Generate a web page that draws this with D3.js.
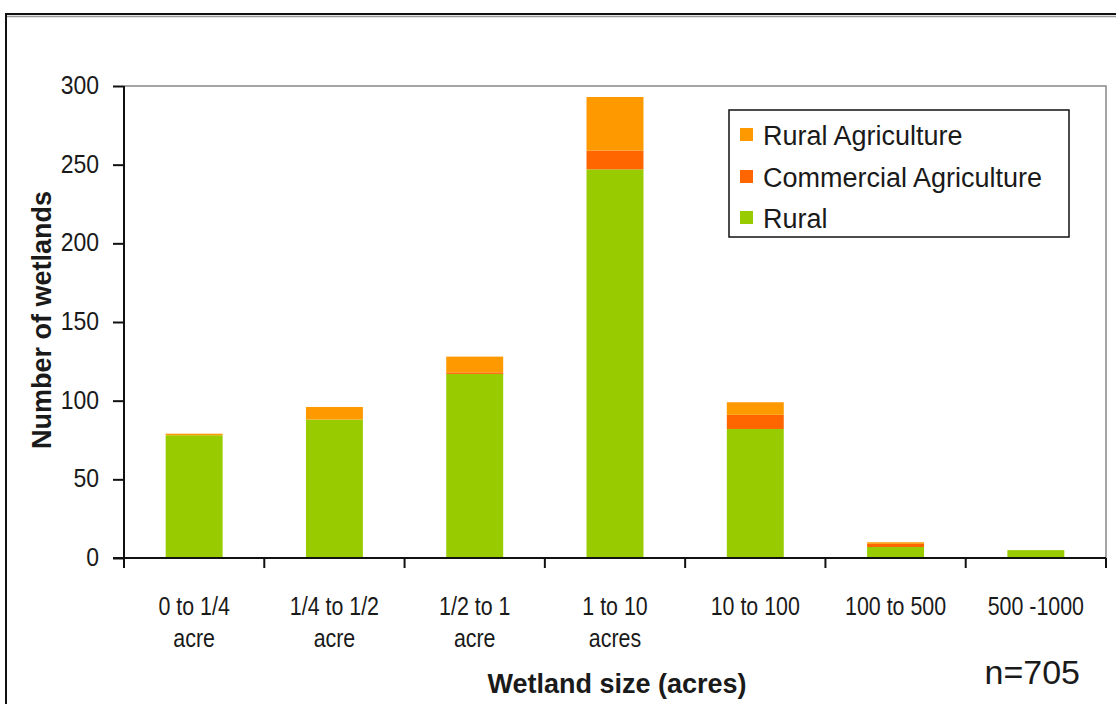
<!DOCTYPE html>
<html>
<head>
<meta charset="utf-8">
<script src="https://cdn.jsdelivr.net/npm/d3@7/dist/d3.min.js"></script>
<style>
  html, body { margin: 0; padding: 0; background: #fff; }
  svg { display: block; }
  text { font-family: "Liberation Sans", Arial, sans-serif; fill: #1a1a1a; }
</style>
</head>
<body>
<svg id="chart" width="1116" height="704"></svg>
<script>
// ---- Data ----
const categoriesLine1 = ["0 to 1/4", "1/4 to 1/2", "1/2 to 1", "1 to 10", "10 to 100", "100 to 500", "500 -1000"];
const categoriesLine2 = ["acre", "acre", "acre", "acres", "", "", ""];
const seriesNames = ["Rural", "Commercial Agriculture", "Rural Agriculture"];
const rural = [78, 88, 117, 247, 82, 7, 5];
const commercialAgriculture = [0, 0, 1, 12, 9, 2, 0];
const ruralAgriculture = [1, 8, 10, 34, 8, 1, 0];
const yTicks = [0, 50, 100, 150, 200, 250, 300];
const sampleNote = "n=705";

const colors = { "Rural": "#99CC00", "Commercial Agriculture": "#FF6600", "Rural Agriculture": "#FF9900" };

(function () {
const svg = d3.select("#chart");

// outer frame
svg.append("rect").attr("x", 6).attr("y", 14).attr("width", 1130).attr("height", 720)
  .attr("fill", "#fff").attr("stroke", "#111").attr("stroke-width", 2);
svg.append("line").attr("x1", 7).attr("x2", 1116).attr("y1", 16.5).attr("y2", 16.5)
  .attr("stroke", "#999").attr("stroke-width", 1.5);

const pLeft = 124, pRight = 1106, pTop = 86, pBottom = 558;

const x = d3.scaleBand().domain(d3.range(categoriesLine1.length))
  .range([pLeft, pRight]).paddingInner(0.594).paddingOuter(0.297);
const y = d3.scaleLinear().domain([0, 300]).range([pBottom, pTop]);

// plot area border (top/right gray)
svg.append("path")
  .attr("d", `M${pLeft},${pTop}H${pRight}V${pBottom}`)
  .attr("fill", "none").attr("stroke", "#888").attr("stroke-width", 1.5);

// stacked data
const table = categoriesLine1.map((c, i) => ({
  idx: i,
  "Rural": rural[i],
  "Commercial Agriculture": commercialAgriculture[i],
  "Rural Agriculture": ruralAgriculture[i]
}));
const stack = d3.stack().keys(seriesNames)(table);

svg.append("g").selectAll("g").data(stack).join("g")
  .attr("fill", d => colors[d.key])
  .selectAll("rect").data(d => d).join("rect")
  .attr("x", d => x(d.data.idx))
  .attr("width", x.bandwidth())
  .attr("y", d => y(d[1]))
  .attr("height", d => y(d[0]) - y(d[1]));

// y axis
const yAxis = d3.axisLeft(y).tickValues(yTicks).tickSize(11).tickPadding(14);
const gy = svg.append("g").attr("transform", `translate(${pLeft},0)`).call(yAxis);
gy.select(".domain").attr("stroke", "#111").attr("stroke-width", 2).attr("d", `M0,${pTop}V${pBottom + 10}`);
gy.selectAll(".tick line").attr("stroke", "#111").attr("stroke-width", 2);
gy.selectAll(".tick text").attr("font-size", 23).attr("fill", "#222")
  .attr("font-family", "'Liberation Sans', Arial, sans-serif")
  .attr("transform", "scale(1,1.15)").attr("dy", "0.28em");

// x axis line and ticks at category boundaries
const step = x.step();
const boundaries = d3.range(categoriesLine1.length + 1).map(i => pLeft + i * step);
svg.append("line").attr("x1", pLeft - 11).attr("x2", pRight).attr("y1", pBottom).attr("y2", pBottom)
  .attr("stroke", "#111").attr("stroke-width", 2);
svg.append("g").selectAll("line").data(boundaries).join("line")
  .attr("x1", d => d).attr("x2", d => d).attr("y1", pBottom).attr("y2", pBottom + 10)
  .attr("stroke", "#111").attr("stroke-width", 2);

// x tick labels (slightly condensed, taller glyphs like the reference)
const xl = svg.append("g").attr("font-size", 23).attr("text-anchor", "middle");
xl.selectAll("text.l1").data(categoriesLine1).join("text").attr("class", "l1")
  .attr("transform", (d, i) => `translate(${x(i) + x.bandwidth() / 2},615) scale(0.93,1.15)`).text(d => d);
xl.selectAll("text.l2").data(categoriesLine2).join("text").attr("class", "l2")
  .attr("transform", (d, i) => `translate(${x(i) + x.bandwidth() / 2},647) scale(0.93,1.15)`).text(d => d);

// axis titles
svg.append("text").attr("x", 617).attr("y", 693).attr("text-anchor", "middle")
  .attr("font-size", 27).attr("font-weight", "bold").text("Wetland size (acres)");
svg.append("text").attr("transform", "translate(51,320) rotate(-90)").attr("text-anchor", "middle")
  .attr("font-size", 27).attr("font-weight", "bold").text("Number of wetlands");

// n note
svg.append("text").attr("x", 1080).attr("y", 684).attr("text-anchor", "end")
  .attr("font-size", 34).text(sampleNote);

// legend
const legendItems = ["Rural Agriculture", "Commercial Agriculture", "Rural"];
const lg = svg.append("g");
lg.append("rect").attr("x", 729).attr("y", 110).attr("width", 340).attr("height", 127)
  .attr("fill", "#fff").attr("stroke", "#111").attr("stroke-width", 1.5);
const rowsY = [135, 177, 218];
lg.selectAll("rect.sw").data(legendItems).join("rect").attr("class", "sw")
  .attr("x", 740).attr("y", (d, i) => rowsY[i] - 7).attr("width", 13).attr("height", 13)
  .attr("fill", d => colors[d]);
lg.selectAll("text").data(legendItems).join("text")
  .attr("x", 763).attr("y", (d, i) => rowsY[i] + 10).attr("font-size", 27).text(d => d);
})();
</script>
</body>
</html>
